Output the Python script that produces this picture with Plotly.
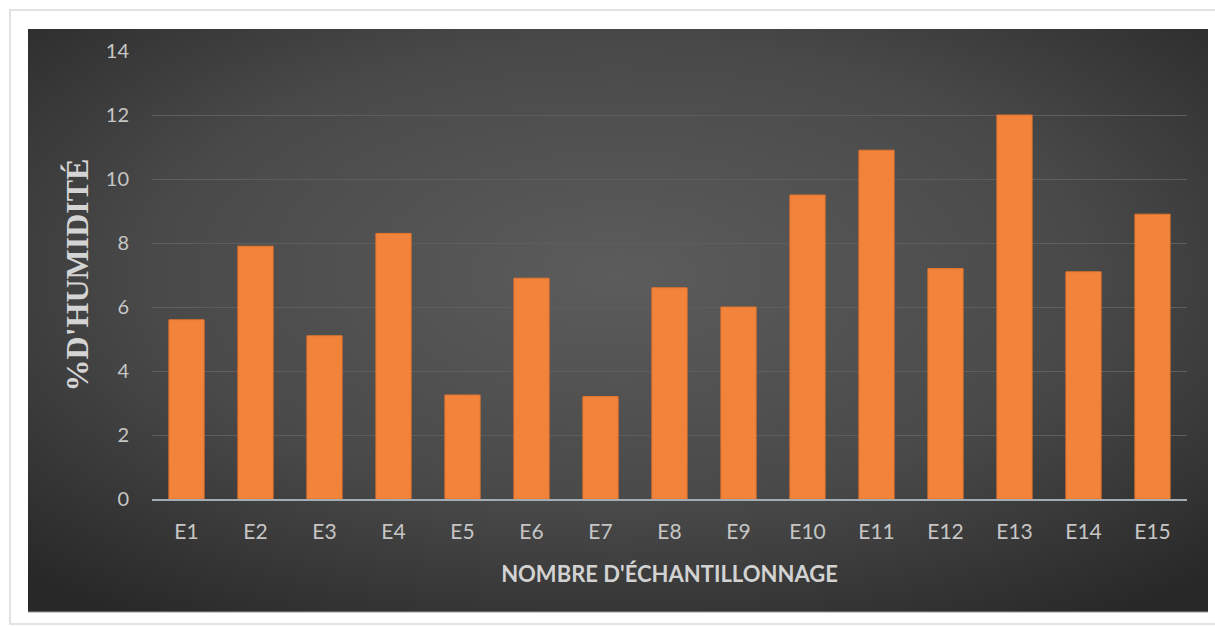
import base64
import plotly.graph_objects as go

# Moisture content per sampling point
categories = ["E1", "E2", "E3", "E4", "E5", "E6", "E7", "E8",
              "E9", "E10", "E11", "E12", "E13", "E14", "E15"]
humidity = [5.6, 7.9, 5.1, 8.3, 3.25, 6.9, 3.2, 6.6,
            6.0, 9.5, 10.9, 7.2, 12.0, 7.1, 8.9]
y_ticks = [0, 2, 4, 6, 8, 10, 12, 14]

W, H = 1215, 626
ML, MR, MT, MB = 152, 28, 51, 127
PW, PH = W - ML - MR, H - MT - MB


def px_to_paper_x(px):
    return (px - ML) / PW


def px_to_paper_y(py):
    return (H - MB - py) / PH


# dark panel with a soft radial vignette
svg = """<svg xmlns='http://www.w3.org/2000/svg' width='1180' height='583' viewBox='0 0 1180 583' preserveAspectRatio='none'>
<defs><radialGradient id='g' cx='50%' cy='42%' r='72%'>
<stop offset='0%' stop-color='#5c5c5c'/>
<stop offset='55%' stop-color='#494949'/>
<stop offset='100%' stop-color='#282828'/>
</radialGradient></defs>
<rect x='0' y='0' width='1180' height='583' fill='url(#g)'/>
</svg>"""
svg_uri = "data:image/svg+xml;base64," + base64.b64encode(svg.encode()).decode()

panel_x0, panel_x1 = 28, 1208
panel_y0, panel_y1 = 29, 612

fig = go.Figure()
fig.add_trace(go.Bar(
    x=categories,
    y=humidity,
    marker=dict(color="#F1833A", line=dict(color="#E6752C", width=1)),
    hoverinfo="x+y",
))

fig.update_layout(
    width=W, height=H,
    margin=dict(l=ML, r=MR, t=MT, b=MB),
    paper_bgcolor="white",
    plot_bgcolor="rgba(0,0,0,0)",
    bargap=0.49,
    showlegend=False,
    font=dict(family="Lato, Open Sans, sans-serif", color="#c9c9c9"),
    images=[dict(
        source=svg_uri, xref="paper", yref="paper",
        x=px_to_paper_x(panel_x0), y=px_to_paper_y(panel_y0),
        sizex=(panel_x1 - panel_x0) / PW, sizey=(panel_y1 - panel_y0) / PH,
        sizing="stretch", xanchor="left", yanchor="top", layer="below",
    )],
    shapes=[
        # outer card frame
        dict(type="rect", xref="paper", yref="paper", layer="below",
             x0=px_to_paper_x(10), x1=px_to_paper_x(1225),
             y0=px_to_paper_y(10), y1=px_to_paper_y(624),
             line=dict(color="#e2e2e2", width=2), fillcolor="rgba(0,0,0,0)"),
        # panel bottom edge highlight
        dict(type="line", xref="paper", yref="paper", layer="below",
             x0=px_to_paper_x(panel_x0), x1=px_to_paper_x(panel_x1),
             y0=px_to_paper_y(panel_y1), y1=px_to_paper_y(panel_y1),
             line=dict(color="#9a9a9a", width=1)),
    ],
    xaxis=dict(
        title=dict(text="NOMBRE D'ÉCHANTILLONNAGE",
                   font=dict(family="Lato, Open Sans, sans-serif", size=22,
                             color="#d2d2d2", weight="bold"),
                   standoff=24),
        tickfont=dict(size=21, color="#c6c6c6"),
        ticklabelstandoff=13,
        showline=True, linecolor="#a3abb3", linewidth=2,
        showgrid=False, ticks="",
    ),
    yaxis=dict(
        title=dict(text="%D'HUMIDITÉ",
                   font=dict(family="Liberation Serif, Times New Roman, serif",
                             size=32, color="#d4d4d4", weight="bold"),
                   standoff=7),
        range=[0, 14],
        tickvals=y_ticks,
        tickfont=dict(size=20, color="#c6c6c6"),
        ticklabelstandoff=22,
        showgrid=True, gridcolor="#5e5e5e", gridwidth=1,
        zeroline=False, showline=False, ticks="",
    ),
)

fig.write_html("out.html")
